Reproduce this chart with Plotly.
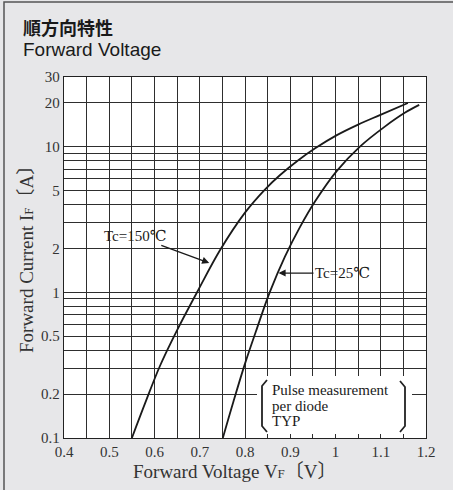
import math
import plotly.graph_objects as go

# ---- data ----
v_tc150 = [0.550, 0.581, 0.612, 0.650, 0.694, 0.745, 0.800, 0.844, 0.877, 0.917, 0.955, 1.003, 1.050, 1.098, 1.160]
i_tc150 = [0.100, 0.179, 0.312, 0.550, 1.00, 1.95, 3.52, 5.07, 6.35, 8.02, 9.72, 11.97, 14.14, 16.43, 19.9]

v_tc25 = [0.751, 0.774, 0.800, 0.827, 0.855, 0.888, 0.922, 0.955, 1.003, 1.054, 1.109, 1.154, 1.185]
i_tc25 = [0.100, 0.176, 0.324, 0.572, 1.005, 1.75, 2.82, 4.21, 6.81, 9.99, 13.7, 17.1, 19.3]

x_grid = [0.40, 0.45, 0.50, 0.55, 0.60, 0.65, 0.70, 0.75, 0.80, 0.85, 0.90, 0.95, 1.00, 1.05, 1.10, 1.15, 1.20]
x_text = ["0.4", "", "0.5", "", "0.6", "", "0.7", "", "0.8", "", "0.9", "", "1", "", "1.1", "", "1.2"]

y_grid = [0.1, 0.2, 0.3, 0.4, 0.5, 0.6, 0.7, 0.8, 0.9, 1, 2, 3, 4, 5, 6, 7, 8, 9, 10, 20, 30]
y_text = ["0.1", "0.2", "", "", "0.5", "", "", "", "", "1", "2", "", "", "5", "", "", "", "", "10", "20", "30"]

# ---- layout geometry (pixels) ----
W, H = 453, 490
L, R, T, B = 64, 426, 77, 438

def px(xp):
    return (xp - L) / (R - L)

def py(yp):
    return (B - yp) / (B - T)

SERIF = "Liberation Serif, Noto Sans CJK JP, serif"
LABEL_SERIF = "Liberation Serif, DejaVu Serif, serif"

fig = go.Figure()
for vx, iy in ((v_tc150, i_tc150), (v_tc25, i_tc25)):
    fig.add_trace(go.Scatter(x=vx, y=iy, mode="lines",
                             line=dict(color="#1a1a1a", width=1.8, shape="spline", smoothing=1.0),
                             showlegend=False, hoverinfo="skip"))

axis_common = dict(showgrid=True, gridcolor="#2e2e2e", gridwidth=1,
                   showline=True, linecolor="#222", linewidth=1.3, mirror=True,
                   zeroline=False, ticks="", tickfont=dict(family=SERIF, size=15, color="#333"))

fig.update_xaxes(range=[0.4, 1.2], tickmode="array", tickvals=x_grid, ticktext=x_text, **axis_common)
fig.update_yaxes(type="log", range=[-1, math.log10(30)], tickmode="array",
                 tickvals=y_grid, ticktext=y_text, **axis_common)

shapes = []
# outer frame
shapes.append(dict(type="rect", xref="paper", yref="paper",
                   x0=px(4), x1=px(470), y0=py(500), y1=py(2),
                   line=dict(color="#555", width=1.5), fillcolor="rgba(0,0,0,0)", layer="below"))
# white note box
shapes.append(dict(type="rect", xref="paper", yref="paper",
                   x0=px(257), x1=px(412), y0=py(434), y1=py(376),
                   line=dict(width=0), fillcolor="white", layer="above"))
# brackets
lb = "M {} {} L {} {} L {} {} L {} {}".format(px(267), py(380), px(262), py(386), px(262), py(426), px(267), py(432))
rb = "M {} {} L {} {} L {} {} L {} {}".format(px(400), py(381), px(405), py(387), px(405), py(426), px(400), py(432))
for p in (lb, rb):
    shapes.append(dict(type="path", xref="paper", yref="paper", path=p,
                       line=dict(color="#222", width=1.8), layer="above"))

ann = []
# titles
ann.append(dict(text="順方向特性", xref="paper", yref="paper", x=px(21), y=py(27),
                xanchor="left", yanchor="middle", showarrow=False,
                font=dict(family="Noto Sans CJK JP", size=18, color="#1a1a1a", weight="bold")))
ann.append(dict(text="Forward Voltage", xref="paper", yref="paper", x=px(21), y=py(49),
                xanchor="left", yanchor="middle", showarrow=False,
                font=dict(family="Liberation Sans, Arial, sans-serif", size=19, color="#1a1a1a")))
# axis titles
ann.append(dict(text="Forward Voltage V<span style='font-size:13px'>F</span>〔V〕",
                xref="paper", yref="paper", x=px(235), y=py(471),
                xanchor="center", yanchor="middle", showarrow=False,
                font=dict(family=SERIF, size=19, color="#333")))
ann.append(dict(text="Forward Current I<span style='font-size:13px'>F</span>〔A〕",
                xref="paper", yref="paper", x=px(27), y=py(255), textangle=-90,
                xanchor="center", yanchor="middle", showarrow=False,
                font=dict(family=SERIF, size=19, color="#333")))
# curve labels with arrows
ann.append(dict(text="Tc=150℃", xref="x", yref="y", x=0.721, y=math.log10(1.59),
                ax=-74, ay=-27, showarrow=True, arrowhead=2, arrowsize=1.1, arrowwidth=1.3,
                arrowcolor="#1a1a1a", standoff=0,
                font=dict(family=LABEL_SERIF, size=15, color="#1a1a1a")))
ann.append(dict(text="Tc=25℃", xref="x", yref="y", x=0.874, y=math.log10(1.355),
                ax=64, ay=0, showarrow=True, arrowhead=2, arrowsize=1.1, arrowwidth=1.3,
                arrowcolor="#1a1a1a", standoff=0,
                font=dict(family=LABEL_SERIF, size=15, color="#1a1a1a")))
# note box text
for txt, yc in (("Pulse measurement", 390), ("per diode", 405.5), ("TYP", 421)):
    ann.append(dict(text=txt, xref="paper", yref="paper", x=px(270), y=py(yc),
                    xanchor="left", yanchor="middle", showarrow=False,
                    font=dict(family=SERIF, size=15, color="#1a1a1a")))

fig.update_layout(width=W, height=H, margin=dict(l=L, r=W - R, t=T, b=H - B),
                  paper_bgcolor="#e7e7e9", plot_bgcolor="white",
                  shapes=shapes, annotations=ann, showlegend=False)

fig.write_html("out.html", config={"displayModeBar": False},
               post_script="document.body.style.margin='0px';")
